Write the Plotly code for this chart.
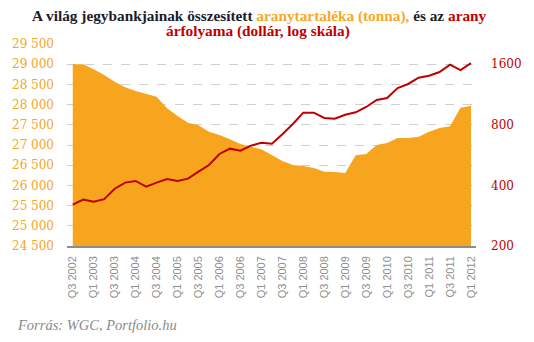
import plotly.graph_objects as go

quarters = ["Q3 2002", "Q4 2002"] + [f"Q{q} {y}" for y in range(2003, 2012) for q in (1, 2, 3, 4)] + ["Q1 2012"]

gold_reserves = [29000, 29000, 28874, 28733, 28567, 28428, 28337, 28270, 28196, 27908,
                 27718, 27552, 27488, 27329, 27248, 27141, 27025, 26958, 26894, 26750,
                 26604, 26505, 26480, 26431, 26339, 26332, 26307, 26745, 26777, 27000,
                 27050, 27173, 27173, 27206, 27329, 27421, 27462, 27923, 27973]

gold_price = [321, 340, 332, 342, 385, 413, 421, 394, 413, 430,
              421, 432, 468, 505, 573, 609, 595, 630, 652, 645,
              718, 807, 919, 919, 865, 858, 898, 923, 981, 1062,
              1087, 1218, 1276, 1371, 1403, 1463, 1591, 1497, 1621]

left_ticks = list(range(24500, 30000, 500))
right_ticks = [200, 400, 800, 1600]

ORANGE = "#F7A51E"
RED = "#C00000"
idx = list(range(len(quarters)))

PLOT_TOP, PLOT_BOTTOM = 44, 246
def py(px):
    return (PLOT_BOTTOM - px) / (PLOT_BOTTOM - PLOT_TOP)

fig = go.Figure()
fig.add_trace(go.Scatter(x=idx, y=gold_reserves, mode="lines", fill="tozeroy",
                         fillcolor=ORANGE, line=dict(color=ORANGE, width=0),
                         hoverinfo="skip", showlegend=False))
fig.add_trace(go.Scatter(x=idx, y=gold_price, mode="lines", yaxis="y2",
                         line=dict(color=RED, width=2), showlegend=False))

tick_idx = idx[::2]
title_font = dict(family="Liberation Serif", size=15.3, color="#1c1c2c", weight="bold")
fig.update_layout(
    width=534, height=342,
    margin=dict(l=60, r=46, t=44, b=96),
    plot_bgcolor="white", paper_bgcolor="white",
    xaxis=dict(
        range=[-0.55, len(quarters) - 1 + 0.48],
        tickmode="array", tickvals=tick_idx, ticktext=[quarters[i] for i in tick_idx],
        tickangle=-90, tickfont=dict(family="Liberation Sans", size=11, color="#8f8f8f"),
        showgrid=False, showline=True, linecolor="#8c8c8c", linewidth=1.5,
        ticks="", zeroline=False, ticklabelstandoff=4,
    ),
    yaxis=dict(
        range=[24500, 29500],
        tickmode="array", tickvals=left_ticks,
        ticktext=[f"{v:,}".replace(",", " ") for v in left_ticks],
        tickfont=dict(family="DejaVu Serif", size=12, color="#F5A623"),
        showgrid=True, gridcolor="#cfcfcf", griddash="dash", gridwidth=1,
        zeroline=False, showline=False, ticks="", ticklabelstandoff=12,
    ),
    yaxis2=dict(
        type="log", overlaying="y", side="right",
        range=[2.30103, 3.20412 + 0.30103 / 3],
        tickmode="array", tickvals=right_ticks, ticktext=[str(v) for v in right_ticks],
        tickfont=dict(family="DejaVu Serif", size=12, color=RED),
        showgrid=False, zeroline=False, showline=False, ticks="", ticklabelstandoff=14,
    ),
    annotations=[
        dict(text=("A világ jegybankjainak összesített <span style='color:#F9A825'>aranytartaléka (tonna),</span> és az "
                   "<span style='color:#C00000'>arany</span>"),
             xref="paper", yref="paper", x=(261 - 60) / 428, y=py(15.5),
             xanchor="center", yanchor="middle", showarrow=False, font=title_font),
        dict(text="<span style='color:#C00000'>árfolyama (dollár, log skála)</span>",
             xref="paper", yref="paper", x=(260 - 60) / 428, y=py(31.5),
             xanchor="center", yanchor="middle", showarrow=False, font=title_font),
        dict(text="<i>Forrás: WGC, Portfolio.hu</i>", xref="paper", yref="paper",
             x=(6 - 60) / 428, y=py(325), xanchor="left", yanchor="middle",
             showarrow=False, font=dict(family="Liberation Serif", size=14.5, color="#8a8a8a")),
    ],
)

fig.write_html("out.html")
